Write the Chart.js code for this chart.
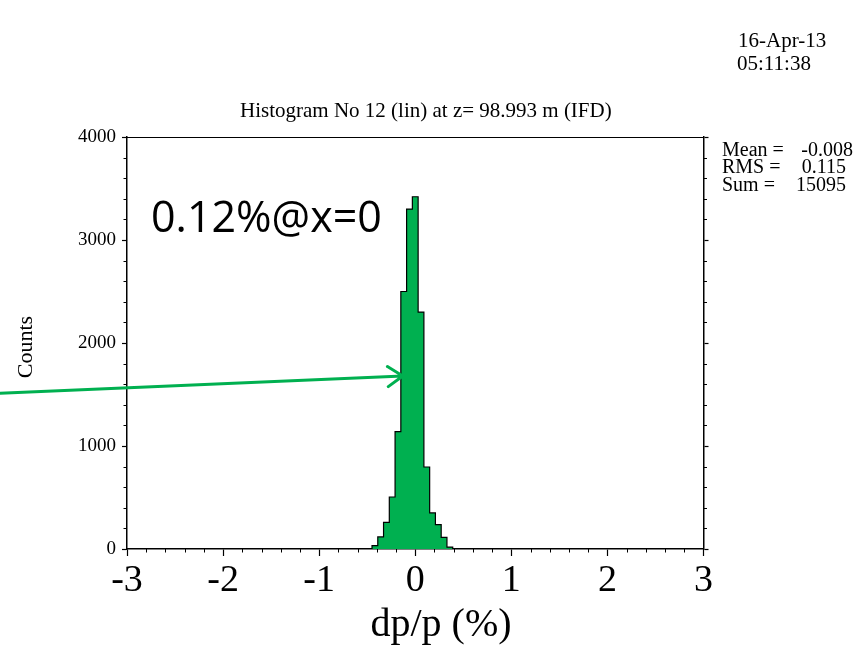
<!DOCTYPE html>
<html>
<head>
<meta charset="utf-8">
<script src="https://cdn.jsdelivr.net/npm/chart.js@4"></script>
<style>
  html, body { margin: 0; padding: 0; background: #fff; }
  #wrap { position: relative; width: 863px; height: 648px; }
</style>
</head>
<body>
<div id="wrap"><canvas id="hist" width="863" height="648"></canvas></div>
<script>
// dp/p histogram, 0.06 % bins
const binWidth = 0.06;
const binCenters = [-0.42, -0.36, -0.30, -0.24, -0.18, -0.12, -0.06, 0, 0.06, 0.12, 0.18, 0.24, 0.30, 0.36];
const binCounts = [32, 117, 259, 505, 1140, 2500, 3300, 3420, 2300, 796, 350, 236, 113, 19];

const xTicks = [-3, -2, -1, 0, 1, 2, 3];
const yTicks = [0, 1000, 2000, 3000, 4000];
const xMinorStep = 0.2;
const yMinorStep = 200;

const titleText = 'Histogram No 12 (lin) at z= 98.993 m (IFD)';
const xTitle = 'dp/p (%)';
const yTitle = 'Counts';
const statLabels = ['Mean =', 'RMS =', 'Sum ='];
const statValues = ['-0.008', '0.115', '15095'];
const stampLines = ['16-Apr-13', '05:11:38'];

// annotation: text and arrow, in data units
const noteText = '0.12%@x=0';
const notePos = { x: -2.75, y: 3075 };
const arrowFrom = { x: -4.32, y: 1512 };
const arrowTo = { x: -0.13, y: 1680 };

const GREEN = '#00B050';
const SERIF = '"Liberation Serif", "Times New Roman", serif';

// outline of the histogram as a closed staircase
function staircase() {
  const pts = [];
  let prev = 0;
  binCenters.forEach((c, i) => {
    const edge = c - binWidth / 2;
    pts.push({ x: edge, y: prev });
    pts.push({ x: edge, y: binCounts[i] });
    prev = binCounts[i];
  });
  const end = binCenters[binCenters.length - 1] + binWidth / 2;
  pts.push({ x: end, y: prev });
  pts.push({ x: end, y: 0 });
  return pts;
}

const decor = {
  id: 'decor',
  afterDraw(chart) {
    const { ctx, chartArea: a, scales: { x, y } } = chart;
    ctx.save();
    ctx.strokeStyle = '#000';
    ctx.lineWidth = 1.2;

    // top edge of the frame
    ctx.beginPath();
    ctx.moveTo(a.left, a.top + 0.5);
    ctx.lineTo(a.right, a.top + 0.5);
    ctx.stroke();

    // minor ticks
    ctx.lineWidth = 1;
    ctx.beginPath();
    const nx = Math.round((x.max - x.min) / xMinorStep);
    for (let i = 1; i < nx; i++) {
      const v = x.min + i * xMinorStep;
      if (Math.abs(v - Math.round(v)) < 1e-6) continue;
      const px = Math.round(x.getPixelForValue(v)) + 0.5;
      ctx.moveTo(px, a.bottom);
      ctx.lineTo(px, a.bottom + 3.5);
    }
    const ny = Math.round((y.max - y.min) / yMinorStep);
    for (let i = 1; i < ny; i++) {
      const v = y.min + i * yMinorStep;
      if (v % 1000 === 0) continue;
      const py = Math.round(y.getPixelForValue(v)) + 0.5;
      ctx.moveTo(a.left - 3.5, py);
      ctx.lineTo(a.left, py);
      ctx.moveTo(a.right, py);
      ctx.lineTo(a.right + 3.5, py);
    }
    ctx.stroke();

    ctx.fillStyle = '#000';
    ctx.textBaseline = 'alphabetic';
    ctx.textAlign = 'left';

    // title and time stamp
    ctx.font = '21px ' + SERIF;
    ctx.fillText(titleText, 240, 117);
    ctx.fillText(stampLines[0], 738, 47);
    ctx.fillText(stampLines[1], 737, 70);

    // statistics box
    ctx.font = '20px ' + SERIF;
    const statY = [156, 173, 191];
    statLabels.forEach((s, i) => {
      ctx.textAlign = 'left';
      ctx.fillText(s, 722, statY[i]);
      ctx.textAlign = 'right';
      ctx.fillText(statValues[i], i === 0 ? 853 : 846, statY[i]);
    });

    // axis titles
    ctx.textAlign = 'center';
    ctx.font = '40px ' + SERIF;
    ctx.fillText(xTitle, 441, 636);
    ctx.save();
    ctx.translate(32, 347);
    ctx.rotate(-Math.PI / 2);
    ctx.font = '22px ' + SERIF;
    ctx.fillText(yTitle, 0, 0);
    ctx.restore();

    // annotation text
    ctx.textAlign = 'left';
    ctx.font = '43px "Open Sans", "Noto Sans", sans-serif';
    ctx.fillText(noteText, x.getPixelForValue(notePos.x), y.getPixelForValue(notePos.y));

    // annotation arrow
    const x0 = x.getPixelForValue(arrowFrom.x), y0 = y.getPixelForValue(arrowFrom.y);
    const x1 = x.getPixelForValue(arrowTo.x), y1 = y.getPixelForValue(arrowTo.y);
    const ang = Math.atan2(y1 - y0, x1 - x0);
    const head = 18, spread = 34 * Math.PI / 180;
    ctx.strokeStyle = GREEN;
    ctx.lineWidth = 3;
    ctx.lineCap = 'round';
    ctx.lineJoin = 'round';
    ctx.beginPath();
    ctx.moveTo(x0, y0);
    ctx.lineTo(x1, y1);
    ctx.moveTo(x1 - head * Math.cos(ang - spread), y1 - head * Math.sin(ang - spread));
    ctx.lineTo(x1, y1);
    ctx.lineTo(x1 - head * Math.cos(ang + spread), y1 - head * Math.sin(ang + spread));
    ctx.stroke();
    ctx.restore();
  }
};

const axisGrid = { drawOnChartArea: false, tickColor: '#000', tickWidth: 1.2 };
const axisBorder = { color: '#000', width: 1.5 };

new Chart(document.getElementById('hist'), {
  type: 'line',
  data: {
    datasets: [{
      data: staircase(),
      borderColor: '#000',
      borderWidth: 1.2,
      backgroundColor: GREEN,
      fill: 'origin',
      pointRadius: 0,
      tension: 0
    }]
  },
  options: {
    responsive: false,
    animation: false,
    devicePixelRatio: 1,
    layout: { padding: { top: 137, right: 139.5, bottom: 0, left: 0 } },
    plugins: {
      legend: { display: false },
      tooltip: { enabled: false },
      title: { display: false }
    },
    scales: {
      x: {
        type: 'linear',
        min: -3,
        max: 3,
        afterBuildTicks: s => { s.ticks = xTicks.map(v => ({ value: v })); },
        afterFit: s => { s.height = 99; },
        ticks: {
          font: { family: SERIF, size: 38 },
          color: '#000',
          padding: 2,
          maxRotation: 0,
          autoSkip: false,
          callback: v => String(v)
        },
        grid: { ...axisGrid, tickLength: 7 },
        border: axisBorder
      },
      y: {
        min: 0,
        max: 4000,
        afterBuildTicks: s => { s.ticks = yTicks.map(v => ({ value: v })); },
        afterFit: s => { s.width = 127; },
        ticks: {
          font: { family: SERIF, size: 19 },
          color: '#000',
          padding: 6,
          callback: v => String(v)
        },
        grid: { ...axisGrid, tickLength: 5 },
        border: axisBorder
      },
      y2: {
        position: 'right',
        min: 0,
        max: 4000,
        afterBuildTicks: s => { s.ticks = yTicks.map(v => ({ value: v })); },
        afterFit: s => { s.width = 20; },
        ticks: { display: false },
        grid: { ...axisGrid, tickLength: 5 },
        border: axisBorder
      }
    }
  },
  plugins: [decor]
});
</script>
</body>
</html>
